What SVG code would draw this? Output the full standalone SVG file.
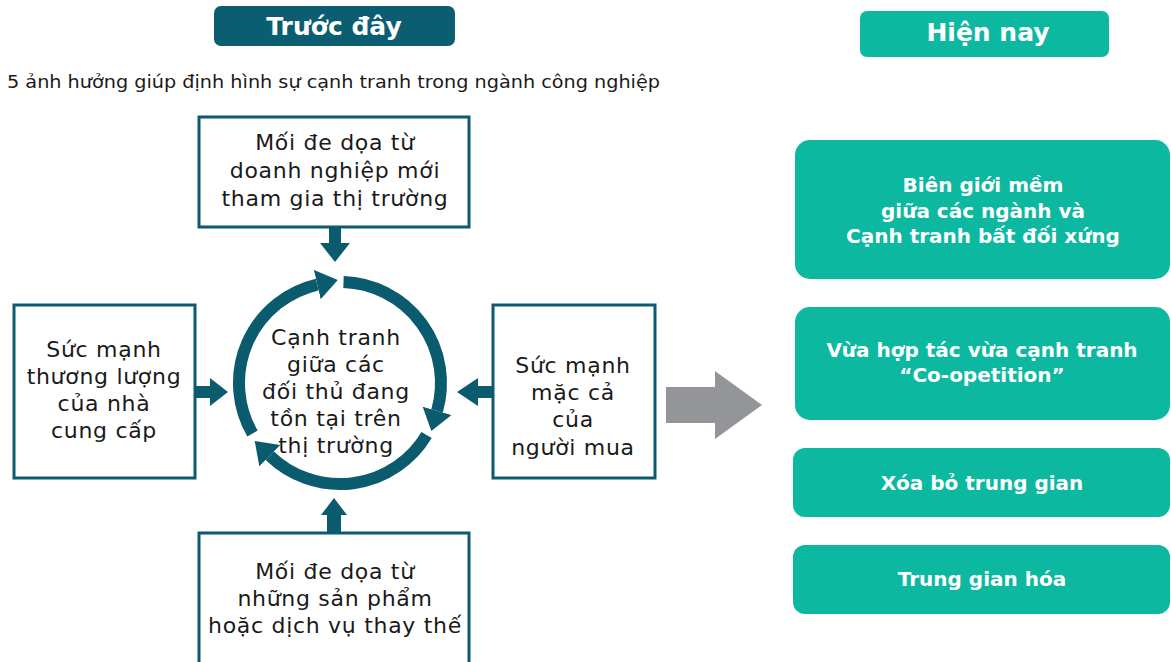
<svg xmlns="http://www.w3.org/2000/svg" width="1171" height="662" viewBox="0 0 1171 662">
  <style>
    text { font-family: "DejaVu Sans", "Liberation Sans", sans-serif; }
    .box { fill: #ffffff; stroke: #0b5b6f; stroke-width: 3; }
    .body { font-size: 22px; letter-spacing: 0.7px; fill: #1a1a1a; text-anchor: middle; }
    .pill { fill: #0db8a1; }
    .pill-text { font-size: 20px; font-weight: bold; fill: #ffffff; text-anchor: middle; }
    .head-text { font-size: 25px; font-weight: bold; fill: #ffffff; text-anchor: middle; }
    .arrow { fill: #0b5b6f; }
    .ring { fill: none; stroke: #0b5b6f; stroke-width: 12; }
  </style>
  <defs>
    <marker id="ringHead" markerUnits="userSpaceOnUse" markerWidth="24" markerHeight="34" refX="0" refY="16" orient="auto" viewBox="0 0 24 32">
      <path d="M0,1 L21,16 L0,31 Z" fill="#0b5b6f"/>
    </marker>
  </defs>

  <rect width="1171" height="662" fill="#ffffff"/>

  <!-- Column headers -->
  <g id="header-before">
    <rect x="214" y="6" width="241" height="40" rx="7" fill="#0b5d71"/>
    <text class="head-text" x="334" y="35">Trước đây</text>
  </g>
  <g id="header-now">
    <rect x="860" y="11" width="249" height="46" rx="7" class="pill"/>
    <text class="head-text" x="988" y="41">Hiện nay</text>
  </g>

  <g id="subtitle">
    <text x="7" y="88" font-size="17" fill="#1a1a1a" textLength="653" lengthAdjust="spacingAndGlyphs">5 ảnh hưởng giúp định hình sự cạnh tranh trong ngành công nghiệp</text>
  </g>

  <!-- Five forces -->
  <g id="force-new-entrants">
    <rect class="box" x="199" y="117" width="270" height="110"/>
    <text class="body" x="335" y="150">Mối đe dọa từ</text>
    <text class="body" x="335" y="178">doanh nghiệp mới</text>
    <text class="body" x="335" y="206">tham gia thị trường</text>
  </g>

  <g id="force-suppliers">
    <rect class="box" x="14" y="305" width="181" height="173"/>
    <text class="body" x="104" y="357">Sức mạnh</text>
    <text class="body" x="104" y="384">thương lượng</text>
    <text class="body" x="104" y="411">của nhà</text>
    <text class="body" x="104" y="438">cung cấp</text>
  </g>

  <g id="force-buyers">
    <rect class="box" x="493" y="305" width="162" height="173"/>
    <text class="body" x="573" y="373">Sức mạnh</text>
    <text class="body" x="573" y="400">mặc cả</text>
    <text class="body" x="573" y="427">của</text>
    <text class="body" x="573" y="455">người mua</text>
  </g>

  <g id="force-substitutes">
    <rect class="box" x="199" y="533" width="270" height="140"/>
    <text class="body" x="335" y="579">Mối đe dọa từ</text>
    <text class="body" x="335" y="606">những sản phẩm</text>
    <text class="body" x="335" y="633">hoặc dịch vụ thay thế</text>
  </g>

  <g id="rivalry">
    <text class="body" x="336" y="345">Cạnh tranh</text>
    <text class="body" x="336" y="372">giữa các</text>
    <text class="body" x="336" y="399">đối thủ đang</text>
    <text class="body" x="336" y="426">tồn tại trên</text>
    <text class="body" x="336" y="453">thị trường</text>
  </g>

  <!-- Today's trends -->
  <g id="trend-borders">
    <rect class="pill" x="795" y="140" width="375" height="139" rx="15"/>
    <text class="pill-text" x="983" y="192">Biên giới mềm</text>
    <text class="pill-text" x="983" y="218">giữa các ngành và</text>
    <text class="pill-text" x="983" y="243">Cạnh tranh bất đối xứng</text>
  </g>
  <g id="trend-coopetition">
    <rect class="pill" x="795" y="307" width="375" height="113" rx="15"/>
    <text class="pill-text" x="982" y="357">Vừa hợp tác vừa cạnh tranh</text>
    <text class="pill-text" x="982" y="382">“Co-opetition”</text>
  </g>
  <g id="trend-disintermediation">
    <rect class="pill" x="793" y="448" width="377" height="69" rx="12"/>
    <text class="pill-text" x="982" y="490">Xóa bỏ trung gian</text>
  </g>
  <g id="trend-reintermediation">
    <rect class="pill" x="793" y="545" width="377" height="69" rx="12"/>
    <text class="pill-text" x="982" y="586">Trung gian hóa</text>
  </g>

  <!-- Connectors -->
  <g id="connectors">
    <!-- block arrows into the rivalry cycle -->
    <polygon class="arrow" points="329,227 341,227 341,243 350,243 335,262 320,243 329,243"/>
    <polygon class="arrow" points="195,386 210,386 210,378 228,392 210,406 210,398 195,398"/>
    <polygon class="arrow" points="493,386 478,386 478,378 457,392 478,406 478,398 493,398"/>
    <polygon class="arrow" points="327,533 341,533 341,515 347,515 334,498 321,515 327,515"/>

    <!-- clockwise rivalry cycle, centre (340,383) r=101 -->
    <path class="ring" marker-end="url(#ringHead)" d="M343.5,282.1 A101,101 0 0 1 437.1,410.8"/>
    <path class="ring" marker-end="url(#ringHead)" d="M426.6,435.0 A101,101 0 0 1 269.8,455.7"/>
    <path class="ring" marker-end="url(#ringHead)" d="M252.5,433.5 A101,101 0 0 1 317.3,284.6"/>

    <!-- transition arrow -->
    <polygon points="666,387 715,387 715,371 762,405 715,439 715,423 666,423" fill="#939598"/>
  </g>
</svg>
